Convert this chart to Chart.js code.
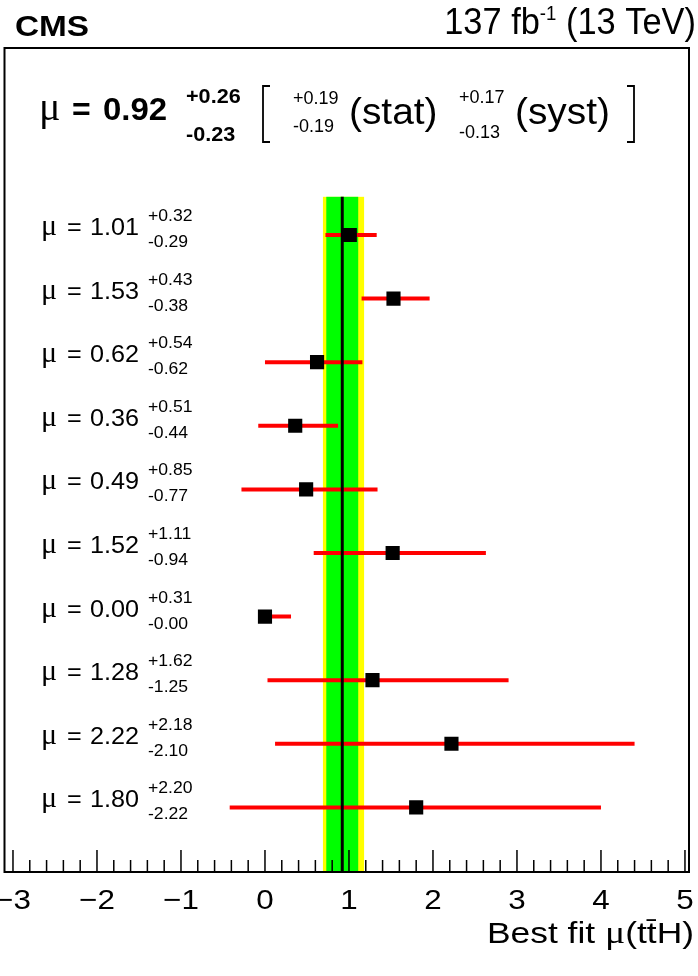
<!DOCTYPE html>
<html><head><meta charset="utf-8">
<script src="https://cdn.jsdelivr.net/npm/chart.js@4/dist/chart.umd.min.js"></script>
<style>html,body{margin:0;padding:0;background:#fff;}canvas{display:block;}</style>
</head><body>
<canvas id="c" width="698" height="976"></canvas>
<script>
// ---- data ----
const channels = [0,1,2,3,4,5,6,7,8,9];           // row index (top to bottom)
const muValues = [1.01,1.53,0.62,0.36,0.49,1.52,0.00,1.28,2.22,1.80];
const errUp    = [0.32,0.43,0.54,0.51,0.85,1.11,0.31,1.62,2.18,2.20];
const errDown  = [0.29,0.38,0.62,0.44,0.77,0.94,0.00,1.25,2.10,2.22];
const comboMu = 0.92, comboUp = 0.26, comboDown = 0.23;
const statUp = 0.19, statDown = 0.19, systUp = 0.17, systDown = 0.13;
const xTickValues = [-3,-2,-1,0,1,2,3,4,5];
const xTickLabels = ['\u22123','\u22122','\u22121','0','1','2','3','4','5'];
const fmt = v => v.toFixed(2);

const SANS = '"Liberation Sans", Arial, sans-serif';
const SERIF = '"Liberation Serif", "Times New Roman", serif';
function T(ctx, str, x, y, size, o) {
  o = o || {};
  const stretch = o.stretch || 1;
  ctx.save();
  ctx.font = (o.bold ? 'bold ' : '') + size + 'px ' + (o.serif ? SERIF : SANS);
  ctx.textBaseline = 'alphabetic';
  ctx.textAlign = 'left';
  ctx.fillStyle = o.color || '#000';
  const w = ctx.measureText(str).width * stretch;
  let x0 = x;
  if (o.align === 'right') x0 = x - w; else if (o.align === 'center') x0 = x - w / 2;
  ctx.translate(x0, y); ctx.scale(stretch, 1);
  ctx.fillText(str, 0, 0);
  ctx.restore();
  return w;
}
function W(ctx, str, size, o) {
  o = o || {};
  ctx.save();
  ctx.font = (o.bold ? 'bold ' : '') + size + 'px ' + (o.serif ? SERIF : SANS);
  const w = ctx.measureText(str).width * (o.stretch || 1);
  ctx.restore();
  return w;
}

const bandPlugin = {
  id: 'band',
  beforeDatasetsDraw(chart) {
    const {ctx, chartArea: a, scales: {x, y}} = chart;
    const top = y.getPixelForValue(-0.6), bot = a.bottom;
    ctx.save();
    ctx.fillStyle = '#ffff00';
    const y0 = x.getPixelForValue(comboMu - comboDown), y1 = x.getPixelForValue(comboMu + comboUp);
    ctx.fillRect(y0, top, y1 - y0, bot - top);
    ctx.fillStyle = '#00ff00';
    const g0 = x.getPixelForValue(comboMu - statDown), g1 = x.getPixelForValue(comboMu + statUp);
    ctx.fillRect(g0, top, g1 - g0, bot - top);
    ctx.restore();
  }
};

const decoPlugin = {
  id: 'deco',
  afterDraw(chart) {
    const {ctx, chartArea: a, scales: {x, y}} = chart;
    ctx.save();
    // frame
    ctx.strokeStyle = '#000'; ctx.lineWidth = 2;
    ctx.strokeRect(a.left, a.top, a.right - a.left, a.bottom - a.top);
    // ticks (inward)
    ctx.lineWidth = 1.5;
    ctx.beginPath();
    x.ticks.forEach(t => {
      const px = x.getPixelForValue(t.value);
      ctx.moveTo(px, a.bottom); ctx.lineTo(px, a.bottom - 22);
      if (t.value < 5) for (let k = 1; k < 5; k++) {
        const pm = x.getPixelForValue(t.value + 0.2 * k);
        ctx.moveTo(pm, a.bottom); ctx.lineTo(pm, a.bottom - 12);
      }
    });
    ctx.stroke();
    ctx.restore();
    // tick labels
    x.ticks.forEach((t, i) => {
      T(ctx, xTickLabels[i], x.getPixelForValue(t.value), 909, 28, {align: 'center', stretch: 1.12});
    });
    // axis title
    {
      const st = 1.18;
      const parts = [['Best fit ', false, 30], ['\u03bc', true, 32], ['(t', false, 30], ['t\u0304', false, 30], ['H)', false, 30]];
      let tot = 0; parts.forEach(p => tot += W(ctx, p[0], p[2], {serif: p[1], stretch: st}));
      let cx = 694 - tot;
      parts.forEach(p => { cx += T(ctx, p[0], cx, 943, p[2], {serif: p[1], stretch: st}); });
    }
    // CMS
    T(ctx, 'CMS', 15, 36, 29, {bold: true, stretch: 1.15});
    // lumi
    {
      const s = 37, st = 0.93;
      const a1 = '137 fb', sup = '-1', a2 = ' (13 TeV)';
      const tot = W(ctx, a1, s, {stretch: st}) + W(ctx, sup, 20, {stretch: st}) + W(ctx, a2, s, {stretch: st});
      let cx = 696 - tot;
      cx += T(ctx, a1, cx, 34, s, {stretch: st});
      cx += T(ctx, sup, cx, 20, 20, {stretch: st});
      T(ctx, a2, cx, 34, s, {stretch: st});
    }
    // combined result header
    T(ctx, '\u03bc', 39, 120, 40, {serif: true});
    T(ctx, '=', 72, 120, 32, {bold: true});
    T(ctx, fmt(comboMu), 103, 120, 32, {bold: true, stretch: 1.03});
    T(ctx, '+' + fmt(comboUp), 186, 103, 20, {bold: true, stretch: 1.08});
    T(ctx, '-' + fmt(comboDown), 186, 141, 20, {bold: true, stretch: 1.08});
    ctx.save();
    ctx.strokeStyle = '#000'; ctx.lineWidth = 1.8;
    ctx.beginPath();
    ctx.moveTo(270, 86); ctx.lineTo(263, 86); ctx.lineTo(263, 142); ctx.lineTo(270, 142);
    ctx.moveTo(627, 86); ctx.lineTo(634, 86); ctx.lineTo(634, 142); ctx.lineTo(627, 142);
    ctx.stroke();
    ctx.restore();
    T(ctx, '+' + fmt(statUp), 293, 104, 18);
    T(ctx, '-' + fmt(statDown), 293, 132, 18);
    T(ctx, '(stat)', 349, 124, 37, {stretch: 1.05});
    T(ctx, '+' + fmt(systUp), 459, 103, 18);
    T(ctx, '-' + fmt(systDown), 459, 138, 18);
    T(ctx, '(syst)', 515, 124, 37, {stretch: 1.05});
    // row labels
    channels.forEach(i => {
      const py = y.getPixelForValue(i);
      T(ctx, '\u03bc', 41, py, 30, {serif: true});
      T(ctx, '=', 67, py, 24, {stretch: 1.05});
      T(ctx, fmt(muValues[i]), 90, py, 24, {stretch: 1.05});
      T(ctx, '+' + fmt(errUp[i]), 148, py - 14, 16, {stretch: 1.1});
      T(ctx, '-' + fmt(errDown[i]), 148, py + 12, 16, {stretch: 1.1});
    });
  }
};

const datasets = [];
// markers (drawn on top)
datasets.push({
  type: 'scatter',
  data: channels.map(i => ({x: muValues[i], y: i})),
  pointStyle: 'rect', pointRadius: 10, pointHoverRadius: 10,
  backgroundColor: '#000', borderColor: '#000', borderWidth: 0
});
// combined best-fit line
datasets.push({
  type: 'line',
  data: [{x: comboMu, y: -0.6}, {x: comboMu, y: 10.1}],
  borderColor: '#000', borderWidth: 3, pointRadius: 0, showLine: true
});
// error bars
channels.forEach(i => {
  datasets.push({
    type: 'line',
    data: [{x: muValues[i] - errDown[i], y: i}, {x: muValues[i] + errUp[i], y: i}],
    borderColor: '#ff0000', borderWidth: 4, pointRadius: 0, showLine: true
  });
});

new Chart(document.getElementById('c'), {
  type: 'scatter',
  data: {datasets},
  options: {
    responsive: false, animation: false, devicePixelRatio: 1,
    layout: {autoPadding: false, padding: {left: 4.5, right: 9, top: 48, bottom: 104}},
    plugins: {legend: {display: false}, tooltip: {enabled: false}},
    scales: {
      x: {type: 'linear', display: false, min: -3.101, max: 5.048,
          afterBuildTicks: s => { s.ticks = xTickValues.map(v => ({value: v})); }},
      y: {type: 'linear', display: false, reverse: true, min: -2.94, max: 10.016}
    }
  },
  plugins: [bandPlugin, decoPlugin]
});
</script>
</body></html>
